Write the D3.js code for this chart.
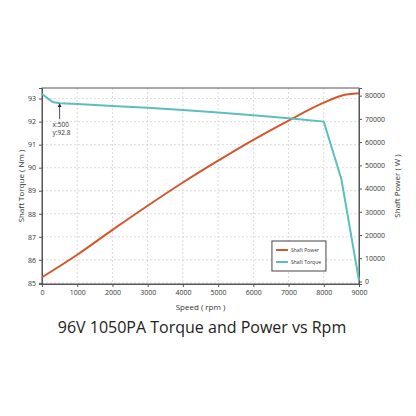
<!DOCTYPE html>
<html><head><meta charset="utf-8">
<script src="https://cdn.jsdelivr.net/npm/d3@7"></script>
<style>body{margin:0;background:#fff}text{font-family:"Open Sans",sans-serif}</style>
</head><body><div id="chart"></div>
<script>
// data
const speeds = [0, 300, 500, 1000, 2000, 3000, 4000, 5000, 6000, 7000, 8000, 8500, 9000];
const torque = [93.2, 92.85, 92.8, 92.76, 92.68, 92.6, 92.5, 92.4, 92.28, 92.15, 92.0, 89.5, 85.1];
const powerSpeeds = [0, 1000, 2000, 3000, 4000, 5000, 6000, 7000, 8000, 8500, 9000];
const power = [1800, 11500, 22200, 32600, 42600, 52000, 61000, 69300, 77000, 80000, 81000];
const xTicks = d3.range(0, 9001, 1000);
const leftTicks = d3.range(85, 94, 1);
const rightTicks = d3.range(0, 80001, 10000);

const W = 416, H = 416;
const m = {top: 88, right: 57, bottom: 132, left: 42};
const w = W - m.left - m.right, h = H - m.top - m.bottom;

const svg = d3.select("#chart").append("svg").attr("width", W).attr("height", H);
const g = svg.append("g").attr("transform", `translate(${m.left},${m.top})`);

const x = d3.scaleLinear().domain([0, 9000]).range([0, w]);
const yL = d3.scaleLinear().domain([84.95, 93.46]).range([h, 0]);
const yR = d3.scaleLinear().domain([-1100, 83300]).range([h, 0]);

// grid
g.selectAll(".gx").data(xTicks.slice(1, -1)).enter().append("line")
    .attr("x1", d => x(d)).attr("x2", d => x(d)).attr("y1", 0).attr("y2", h)
    .attr("stroke", "#ccc").attr("stroke-dasharray", "2,2").attr("stroke-width", 0.7);
g.selectAll(".gy").data(leftTicks).enter().append("line")
    .attr("x1", 0).attr("x2", w).attr("y1", d => yL(d)).attr("y2", d => yL(d))
    .attr("stroke", "#ccc").attr("stroke-dasharray", "2,2").attr("stroke-width", 0.7);

g.append("rect").attr("width", w).attr("height", h).attr("fill", "none").attr("stroke", "#555").attr("stroke-width", 1);

const axStyle = sel => {
    sel.selectAll("text").attr("font-size", 7).attr("fill", "#333");
    sel.selectAll("line").attr("stroke", "#555");
    sel.select(".domain").attr("stroke", "#555");
};
g.append("g").attr("transform", `translate(0,${h})`)
    .call(d3.axisBottom(x).tickValues(xTicks).tickSize(3).tickFormat(d3.format("d"))).call(axStyle);
g.append("g").call(d3.axisLeft(yL).tickValues(leftTicks).tickSize(3)).call(axStyle);
g.append("g").attr("transform", `translate(${w},0)`)
    .call(d3.axisRight(yR).tickValues(rightTicks).tickSize(3).tickFormat(d3.format("d"))).call(axStyle);

// lines
g.append("path").datum(powerSpeeds.map((s, i) => [s, power[i]]))
    .attr("fill", "none").attr("stroke", "#d4572c").attr("stroke-width", 2)
    .attr("d", d3.line().x(d => x(d[0])).y(d => yR(d[1])).curve(d3.curveMonotoneX));
g.append("path").datum(speeds.map((s, i) => [s, torque[i]]))
    .attr("fill", "none").attr("stroke", "#5bbfc0").attr("stroke-width", 2)
    .attr("d", d3.line().x(d => x(d[0])).y(d => yL(d[1])));

// annotation
svg.append("defs").append("marker").attr("id", "arr").attr("viewBox", "0 0 10 10")
    .attr("refX", 5).attr("refY", 5).attr("markerWidth", 5).attr("markerHeight", 5).attr("orient", "auto")
    .append("path").attr("d", "M0,0L10,5L0,10z").attr("fill", "#222");
g.append("line").attr("x1", x(500)).attr("x2", x(500)).attr("y1", yL(92.8) + 16).attr("y2", yL(92.8) + 2)
    .attr("stroke", "#222").attr("stroke-width", 0.8).attr("marker-end", "url(#arr)");
g.append("text").attr("x", x(500) - 7).attr("y", yL(92.8) + 24).attr("font-size", 6.5).attr("fill", "#333").text("x:500");
g.append("text").attr("x", x(500) - 7).attr("y", yL(92.8) + 32).attr("font-size", 6.5).attr("fill", "#333").text("y:92.8");

// legend
const lg = g.append("g").attr("transform", `translate(${x(6500) + 1},${153})`);
lg.append("rect").attr("width", 54).attr("height", 30).attr("fill", "#fff").attr("stroke", "#444");
[["Shaft Power", "#d4572c"], ["Shaft Torque", "#5bbfc0"]].forEach(([t, c], i) => {
    lg.append("line").attr("x1", 4).attr("x2", 16).attr("y1", 9 + i * 12).attr("y2", 9 + i * 12).attr("stroke", c).attr("stroke-width", 2);
    lg.append("text").attr("x", 19).attr("y", 11 + i * 12).attr("font-size", 5).attr("fill", "#333").text(t);
});

// labels
svg.append("text").attr("x", m.left + w / 2).attr("y", 310).attr("text-anchor", "middle")
    .attr("font-size", 8).attr("fill", "#333").text("Speed ( rpm )");
svg.append("text").attr("transform", `translate(24,${m.top + h / 2}) rotate(-90)`).attr("text-anchor", "middle")
    .attr("font-size", 8).attr("fill", "#333").text("Shaft Torque ( Nm )");
svg.append("text").attr("transform", `translate(400,${m.top + h / 2}) rotate(-90)`).attr("text-anchor", "middle")
    .attr("font-size", 8).attr("fill", "#333").text("Shaft Power ( W )");
svg.append("text").attr("x", 202).attr("y", 333).attr("text-anchor", "middle")
    .attr("font-size", 16).attr("fill", "#222").text("96V 1050PA Torque and Power vs Rpm");
</script></body></html>
